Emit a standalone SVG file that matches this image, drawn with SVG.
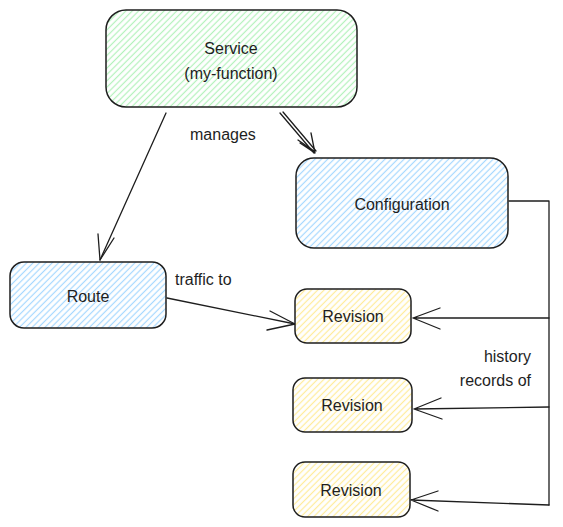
<svg xmlns="http://www.w3.org/2000/svg" width="563" height="527" viewBox="0 0 563 527">
<style>
.box{stroke:#1e1e1e;stroke-width:1.5}
.lbl{font-family:"Liberation Sans",Arial,sans-serif;font-size:16px;fill:#1e1e1e;text-anchor:middle;dominant-baseline:central}
.edge{fill:none;stroke:#1e1e1e;stroke-width:1.3;stroke-linecap:round;stroke-linejoin:round}
.elbl{font-family:"Liberation Sans",Arial,sans-serif;font-size:16px;fill:#1e1e1e}
</style>
<defs>
<pattern id="hg" width="4.5" height="4.5" patternUnits="userSpaceOnUse" patternTransform="rotate(-45)">
<rect width="4.5" height="4.5" fill="#ffffff"/><line x1="0" y1="2.25" x2="4.5" y2="2.25" stroke="#b2f2bb" stroke-width="1.2"/></pattern>
<pattern id="hb" width="4.5" height="4.5" patternUnits="userSpaceOnUse" patternTransform="rotate(-45)">
<rect width="4.5" height="4.5" fill="#ffffff"/><line x1="0" y1="2.25" x2="4.5" y2="2.25" stroke="#a5d8ff" stroke-width="1.2"/></pattern>
<pattern id="hy" width="4.5" height="4.5" patternUnits="userSpaceOnUse" patternTransform="rotate(-45)">
<rect width="4.5" height="4.5" fill="#ffffff"/><line x1="0" y1="2.25" x2="4.5" y2="2.25" stroke="#ffec99" stroke-width="1.2"/></pattern>
</defs>
<rect width="563" height="527" fill="#ffffff"/>
<g id="connectors">
<path class="edge" d="M166 113 L100 260"/>
<path class="edge" d="M100 260 L98 234 M100 260 L114 238"/>
<path class="edge" d="M280 113 L314 153 M283 112 L316 151"/>
<path class="edge" d="M315 153 L300 143 M315 153 L311 133 M314 151 L298 140"/>
<path class="edge" d="M167 298 L295 324"/>
<path class="edge" d="M295 324 L270 311 M295 324 L267 330"/>
<path class="edge" d="M509 201 L549 201 L549 505"/>
<path class="edge" d="M549 318 L413 318 M413 318 L440 308 M413 318 L440 329"/>
<path class="edge" d="M549 407 L414 409 M414 409 L441 398 M414 409 L442 419"/>
<path class="edge" d="M549 505 L411 500 M411 500 L438 491 M411 500 L438 511"/>
<text class="elbl" x="190" y="140">manages</text>
<text class="elbl" x="175" y="285">traffic to</text>
<text class="elbl" x="531" y="362" text-anchor="end">history</text>
<text class="elbl" x="531" y="386" text-anchor="end">records of</text>
</g>
<g id="service">
<rect class="box" x="106" y="10" width="251" height="97" rx="20" fill="url(#hg)"/>
<text class="lbl" x="231" y="48">Service</text>
<text class="lbl" x="231" y="73">(my-function)</text>
</g>
<g id="configuration">
<rect class="box" x="296" y="158" width="212" height="90" rx="18" fill="url(#hb)"/>
<text class="lbl" x="402" y="204">Configuration</text>
</g>
<g id="route">
<rect class="box" x="10" y="262" width="156" height="66" rx="14" fill="url(#hb)"/>
<text class="lbl" x="88" y="296">Route</text>
</g>
<g id="revision1">
<rect class="box" x="295" y="289" width="116" height="54" rx="12" fill="url(#hy)"/>
<text class="lbl" x="353" y="316">Revision</text>
</g>
<g id="revision2">
<rect class="box" x="293" y="378" width="119" height="54" rx="12" fill="url(#hy)"/>
<text class="lbl" x="352" y="405">Revision</text>
</g>
<g id="revision3">
<rect class="box" x="293" y="462" width="117" height="55" rx="12" fill="url(#hy)"/>
<text class="lbl" x="351" y="490">Revision</text>
</g>
</svg>
